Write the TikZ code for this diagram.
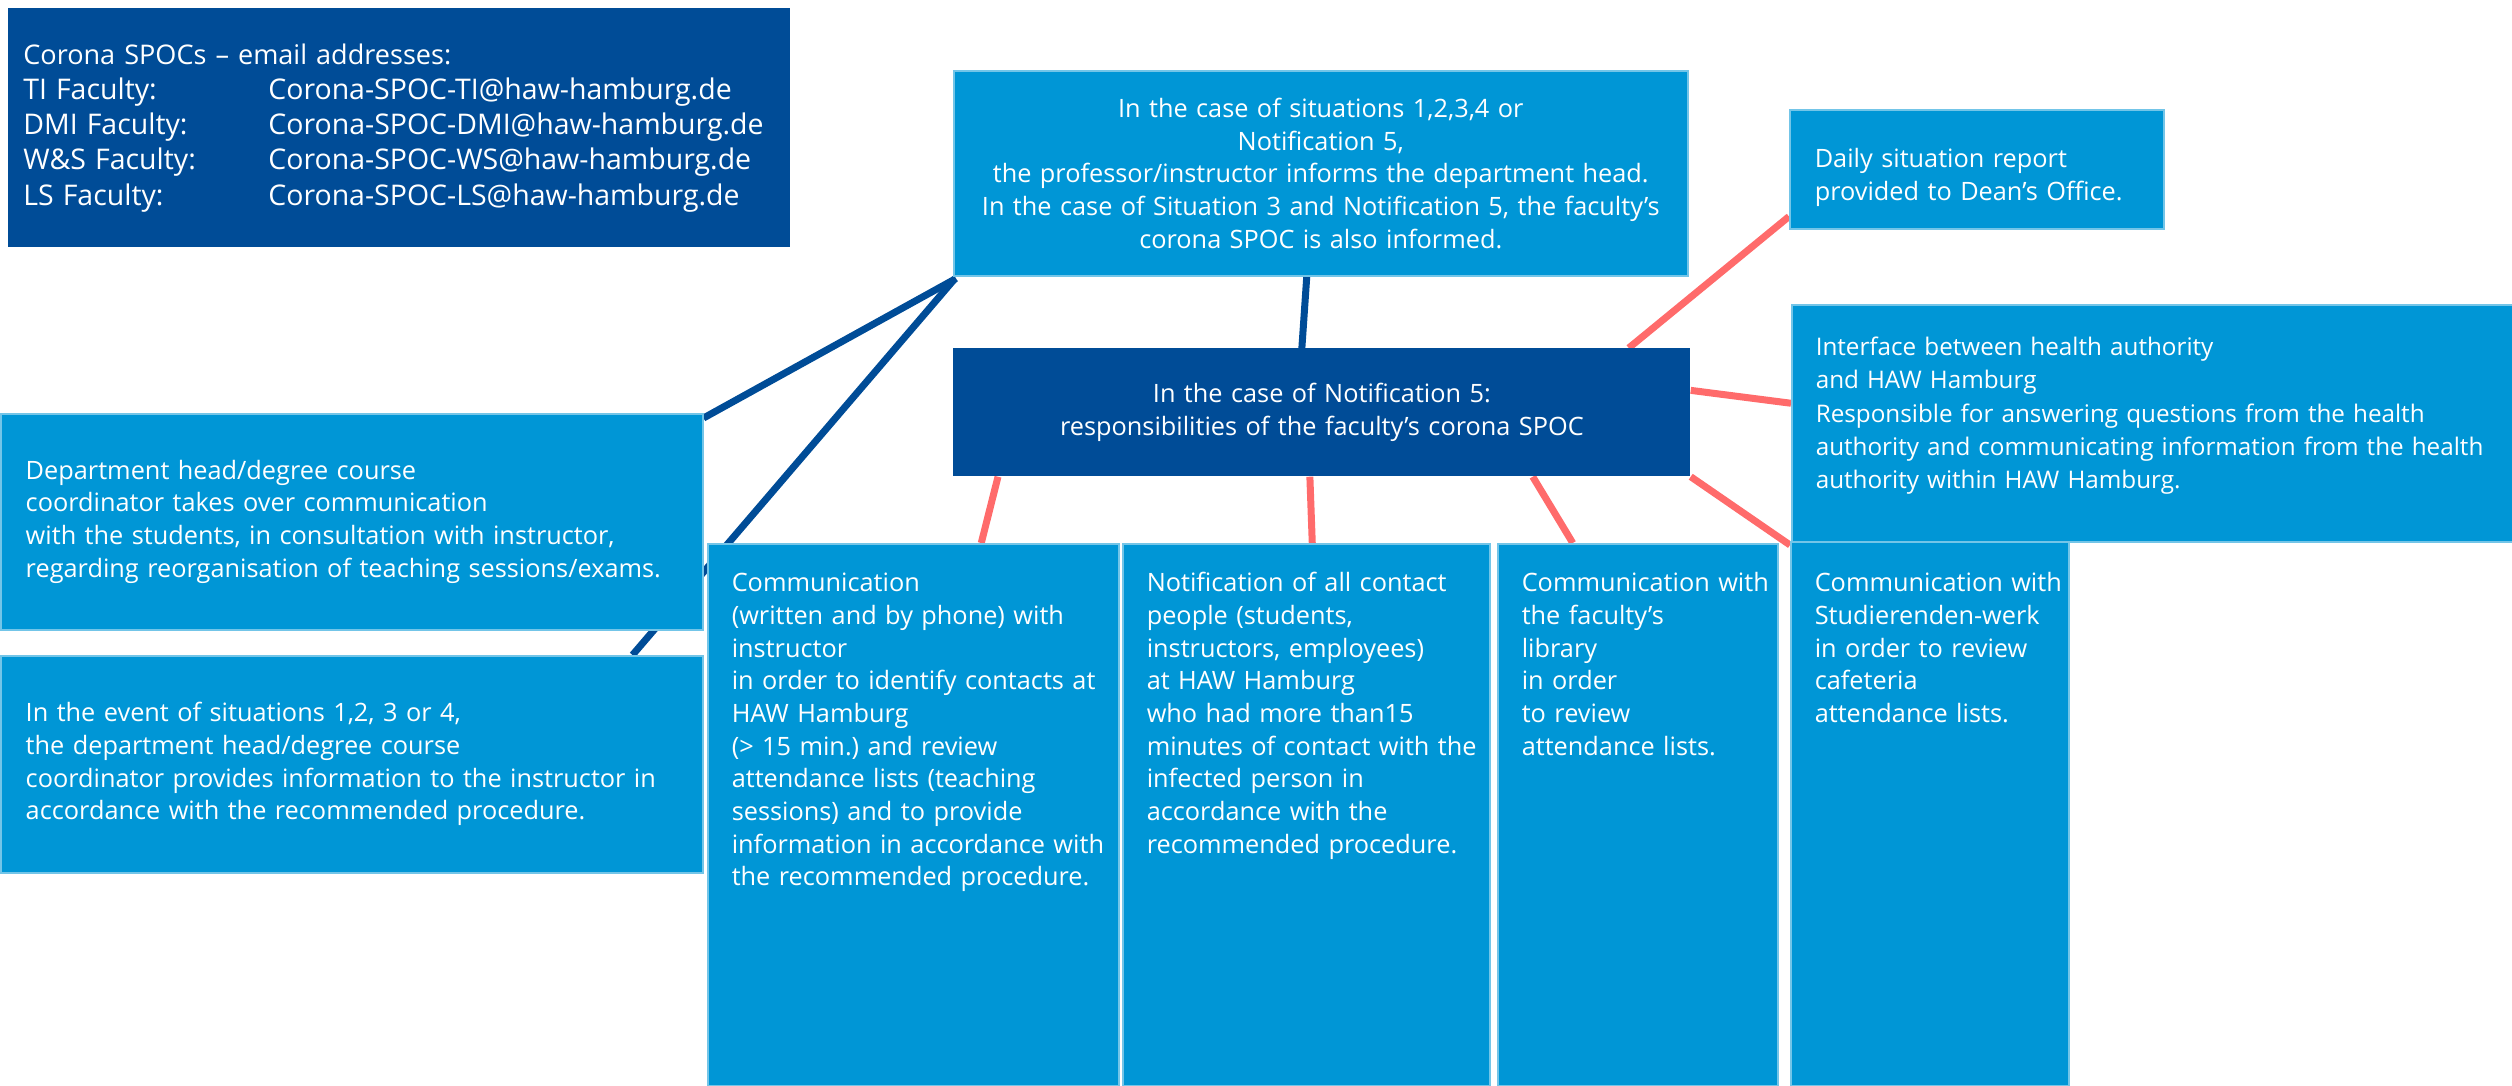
\documentclass[tikz,border=0pt]{standalone}
\usepackage{fontspec}
\setmainfont{Open Sans}
\usetikzlibrary{backgrounds}

\definecolor{hawlight}{HTML}{0096D6}
\definecolor{hawdark}{HTML}{004C97}
\definecolor{salmon}{HTML}{FF6B6B}
\frenchspacing

\begin{document}
\begin{tikzpicture}[x=0.2mm,y=-0.2mm,
    box/.style={anchor=north west,inner sep=0pt,text=white,
      font=\fontsize{14.4}{18.6}\selectfont},
    padded/.style={align=left,execute at begin node={\leftskip=#1}},
    padded/.default=4.8mm,
    lightbox/.style={box,fill=hawlight,draw=hawlight!55!white,line width=0.3mm},
    darkbox/.style={box,fill=hawdark},
    tallbox/.style={lightbox,padded,text height=9.6mm,text depth=98.8mm},
    blueline/.style={hawdark,line width=1.4mm},
    redline/.style={salmon,line width=1.4mm}]
  \useasboundingbox (0,0) rectangle (2512,1085);

  % direcciones de correo
  \node[darkbox,padded=3mm,text width=156.4mm,minimum height=47.8mm,
        font=\fontsize{15.4}{20}\selectfont] (emails) at (8,8)
    {Corona SPOCs – email addresses:\\
     \fontsize{16.2}{20}\selectfont
     \makebox[49mm][l]{TI Faculty:}Corona-SPOC-TI@haw-hamburg.de\\
     \makebox[49mm][l]{DMI Faculty:}Corona-SPOC-DMI@haw-hamburg.de\\
     \makebox[49mm][l]{W\&S Faculty:}Corona-SPOC-WS@haw-hamburg.de\\
     \makebox[49mm][l]{LS Faculty:}Corona-SPOC-LS@haw-hamburg.de};

  % aviso del docente y SPOC
  \node[lightbox,align=center,text width=146.8mm,minimum height=41mm] (inform) at (953,70)
    {In the case of situations 1,2,3,4 or\\
     Notification 5,\\
     the professor/instructor informs the department head.\\
     In the case of Situation 3 and Notification 5, the faculty’s\\
     corona SPOC is also informed.};
  \node[darkbox,align=center,text width=147.4mm,minimum height=25.6mm] (spoc) at (953,348)
    {In the case of Notification 5:\\
     responsibilities of the faculty’s corona SPOC};

  % cajas de la derecha
  \node[lightbox,padded=5mm,text width=74.8mm,text height=11.6mm,text depth=12.2mm] (daily) at (1789,109)
    {Daily situation report\\
     provided to Dean’s Office.};
  \node[lightbox,padded,text width=144.2mm,text height=10.2mm,text depth=37.2mm,
        font=\fontsize{13.8}{18.9}\selectfont] (iface) at (1791,304)
    {Interface between health authority\\
     and HAW Hamburg\\
     Responsible for answering questions from the health\\
     authority and communicating information from the health\\
     authority within HAW Hamburg.};

  % jefe de departamento
  \node[lightbox,padded=5mm,text width=140.4mm,minimum height=43.2mm] (dept) at (0,413)
    {Department head/degree course\\
     coordinator takes over communication\\
     with the students, in consultation with instructor,\\
     regarding reorganisation of teaching sessions/exams.};
  \node[lightbox,padded=5mm,text width=140.4mm,minimum height=43.4mm] (event) at (0,655)
    {In the event of situations 1,2, 3 or 4,\\
     the department head/degree course\\
     coordinator provides information to the instructor in\\
     accordance with the recommended procedure.};

  % tareas del SPOC
  \node[tallbox,text width=82.2mm] (comm) at (707,543)
    {Communication\\
     (written and by phone) with\\
     instructor\\
     in order to identify contacts at\\
     HAW Hamburg\\
     (> 15 min.) and review\\
     attendance lists (teaching\\
     sessions) and to provide\\
     information in accordance with\\
     the recommended procedure.};
  \node[tallbox,text width=73.4mm] (notif) at (1122,543)
    {Notification of all contact\\
     people (students,\\
     instructors, employees)\\
     at HAW Hamburg\\
     who had more than15\\
     minutes of contact with the\\
     infected person in\\
     accordance with the\\
     recommended procedure.};
  \node[tallbox,text width=56mm] (lib) at (1497,543)
    {Communication with\\
     the faculty’s\\
     library\\
     in order\\
     to review\\
     attendance lists.};
  \node[tallbox,text width=55.6mm,text height=10mm] (stud) at (1790,541)
    {Communication with\\
     Studierenden-werk\\
     in order to review\\
     cafeteria\\
     attendance lists.};

  \begin{scope}[on background layer]
    % lineas azules desde el aviso
    \draw[blueline] ([shift={(-14,0)}]inform.south) -- ([shift={(-20,0)}]spoc.north);
    \draw[blueline] ([shift={(3,2)}]inform.south west) -- ([shift={(0,5)}]dept.north east);
    \draw[blueline] ([shift={(2,2)}]inform.south west) -- ([shift={(-71,0)}]event.north east);
    % lineas rojas del SPOC
    \draw[redline] ([shift={(-62,0)}]spoc.north east) -- ([shift={(0,-13)}]daily.south west);
    \draw[redline] ([shift={(0,-22)}]spoc.east) -- ([shift={(0,-20)}]iface.west);
    \draw[redline] (spoc.south east) -- ([shift={(0,4)}]stud.north west);
    \draw[redline] ([shift={(-158,0)}]spoc.south east) -- ([shift={(-65,0)}]lib.north);
    \draw[redline] ([shift={(-12,0)}]spoc.south) -- ([shift={(6,0)}]notif.north);
    \draw[redline] ([shift={(45,0)}]spoc.south west) -- ([shift={(68,0)}]comm.north);
  \end{scope}
\end{tikzpicture}
\end{document}
